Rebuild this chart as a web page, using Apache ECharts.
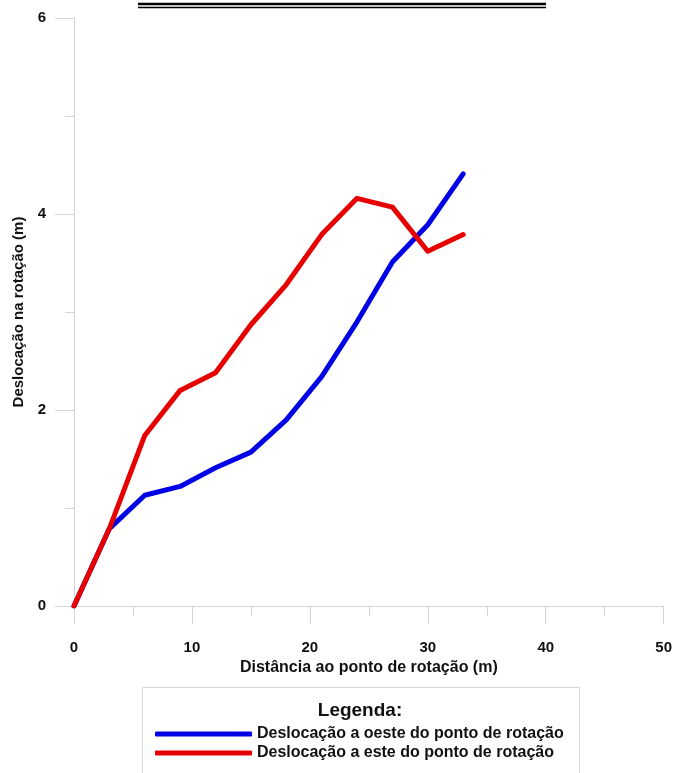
<!DOCTYPE html>
<html>
<head>
<meta charset="utf-8">
<script src="https://cdn.jsdelivr.net/npm/echarts@6/dist/echarts.min.js"></script>
<style>
  html, body { margin: 0; padding: 0; background: #fff; }
  #chart { width: 675px; height: 773px; }
</style>
</head>
<body>
<div id="chart"></div>
<script>
// distance from the rotation point (m)
var distancias = [0, 3, 6, 9, 12, 15, 18, 21, 24, 27, 30, 33];
// displacement west / east of the rotation point (m)
var oeste = [0, 0.79, 1.13, 1.22, 1.41, 1.57, 1.90, 2.34, 2.90, 3.51, 3.89, 4.41];
var este  = [0, 0.79, 1.74, 2.20, 2.38, 2.87, 3.28, 3.79, 4.16, 4.07, 3.62, 3.79];
var nomes = ['Deslocação a oeste do ponto de rotação', 'Deslocação a este do ponto de rotação'];
var cores = ['#0000e6', '#e60000'];

function pares(xs, ys) {
    return xs.map(function (x, i) { return [x, ys[i]]; });
}

var fonte = 'Liberation Sans, Arial, sans-serif';
var corEixo = '#d4d4d4';

var myChart = echarts.init(document.getElementById('chart'));
var option = {
    animation: false,
    grid: {
        left: 74,
        right: 11,
        top: 18,
        bottom: 167
    },
    graphic: [
        // double rule at the top
        { type: 'line', shape: { x1: 138, y1: 4, x2: 546, y2: 4 }, style: { stroke: '#000', lineWidth: 2.5 } },
        { type: 'line', shape: { x1: 138, y1: 7.5, x2: 546, y2: 7.5 }, style: { stroke: '#000', lineWidth: 1.3 } },
        // legend frame
        { type: 'rect', shape: { x: 142.5, y: 687.5, width: 437, height: 100 }, style: { fill: '#fff', stroke: '#d8d8d8', lineWidth: 1 }, z: 0 },
        { type: 'text', x: 360, y: 711, style: { text: 'Legenda:', font: 'bold 19px ' + fonte, fill: '#111', align: 'center', verticalAlign: 'middle' }, z: 5 }
    ],
    legend: {
        orient: 'vertical',
        left: 150,
        top: 721,
        itemWidth: 97,
        itemHeight: 5,
        itemGap: 3,
        icon: 'roundRect',
        textStyle: { fontFamily: fonte, fontWeight: 'bold', fontSize: 16, color: '#111' },
        data: nomes
    },
    xAxis: {
        type: 'value',
        min: 0,
        max: 50,
        interval: 10,
        name: 'Distância ao ponto de rotação (m)',
        nameLocation: 'middle',
        nameGap: 52,
        nameTextStyle: { fontFamily: fonte, fontWeight: 'bold', fontSize: 16, color: '#111' },
        axisLine: { show: true, lineStyle: { color: corEixo, width: 1 } },
        axisTick: { show: true, length: 18, lineStyle: { color: corEixo } },
        minorTick: { show: true, splitNumber: 2, length: 10, lineStyle: { color: corEixo } },
        splitLine: { show: false },
        axisLabel: { margin: 34, fontFamily: fonte, fontWeight: 'bold', fontSize: 15, color: '#111' }
    },
    yAxis: {
        type: 'value',
        min: 0,
        max: 6,
        interval: 2,
        name: 'Deslocação na rotação (m)',
        nameLocation: 'middle',
        nameGap: 42,
        nameTextStyle: { fontFamily: fonte, fontWeight: 'bold', fontSize: 15, color: '#111' },
        axisLine: { show: true, lineStyle: { color: corEixo, width: 1 } },
        axisTick: { show: true, length: 19, lineStyle: { color: corEixo } },
        minorTick: { show: true, splitNumber: 2, length: 9, lineStyle: { color: corEixo } },
        splitLine: { show: false },
        axisLabel: { margin: 28, fontFamily: fonte, fontWeight: 'bold', fontSize: 15, color: '#111' }
    },
    series: [
        {
            name: nomes[0],
            type: 'line',
            data: pares(distancias, oeste),
            showSymbol: false,
            lineStyle: { color: cores[0], width: 5, cap: 'round', join: 'round' },
            itemStyle: { color: cores[0] },
            z: 2
        },
        {
            name: nomes[1],
            type: 'line',
            data: pares(distancias, este),
            showSymbol: false,
            lineStyle: { color: cores[1], width: 5, cap: 'round', join: 'round' },
            itemStyle: { color: cores[1] },
            z: 3
        }
    ]
};
myChart.setOption(option);
window.addEventListener('resize', function () {
    myChart.resize();
});
</script>
</body>
</html>
